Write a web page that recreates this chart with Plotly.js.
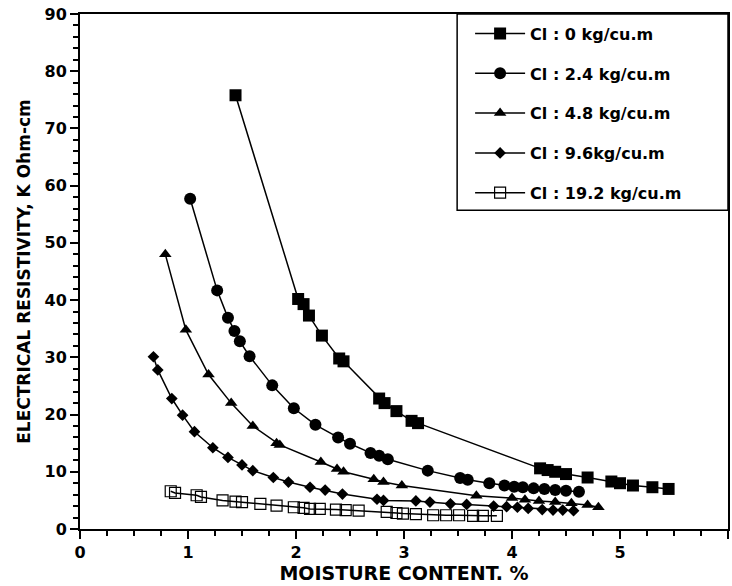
<!DOCTYPE html>
<html>
<head>
<meta charset="utf-8">
<script src="https://cdn.plot.ly/plotly-3.0.1.min.js"></script>
<style>html,body{margin:0;padding:0;background:#fff;}#chart{width:732px;height:586px;}</style>
</head>
<body>
<div id="chart"></div>
<script>
// Cl : 0 kg/cu.m (filled squares)
const x0 = [1.44, 2.02, 2.07, 2.12, 2.24, 2.40, 2.44, 2.77, 2.82, 2.93, 3.07, 3.13, 4.26, 4.33, 4.40, 4.50, 4.70, 4.92, 5.00, 5.12, 5.30, 5.45];
const y0 = [75.8, 40.2, 39.3, 37.3, 33.8, 29.8, 29.3, 22.8, 22.0, 20.6, 18.9, 18.5, 10.6, 10.3, 10.0, 9.6, 9.0, 8.3, 8.0, 7.6, 7.3, 7.0];
// Cl : 2.4 kg/cu.m (filled circles)
const x24 = [1.02, 1.27, 1.37, 1.43, 1.48, 1.57, 1.78, 1.98, 2.18, 2.39, 2.50, 2.69, 2.77, 2.85, 3.22, 3.52, 3.59, 3.79, 3.93, 4.02, 4.10, 4.20, 4.30, 4.40, 4.50, 4.62];
const y24 = [57.7, 41.7, 36.9, 34.6, 32.8, 30.2, 25.1, 21.1, 18.2, 16.0, 14.9, 13.3, 12.8, 12.2, 10.2, 8.9, 8.6, 8.0, 7.6, 7.4, 7.3, 7.1, 7.0, 6.8, 6.7, 6.5];
// Cl : 4.8 kg/cu.m (filled triangles)
const x48 = [0.79, 0.98, 1.19, 1.40, 1.60, 1.82, 1.85, 2.23, 2.38, 2.44, 2.72, 2.81, 2.98, 3.67, 4.00, 4.12, 4.25, 4.40, 4.55, 4.70, 4.80];
const y48 = [48.0, 34.8, 27.0, 22.0, 18.0, 15.0, 14.7, 11.7, 10.5, 10.0, 8.7, 8.2, 7.6, 5.8, 5.4, 5.1, 4.9, 4.7, 4.5, 4.2, 3.8];
// Cl : 9.6 kg/cu.m (filled diamonds)
const x96 = [0.68, 0.72, 0.85, 0.95, 1.06, 1.23, 1.37, 1.50, 1.60, 1.79, 1.93, 2.13, 2.27, 2.43, 2.75, 2.81, 3.11, 3.24, 3.43, 3.58, 3.83, 3.95, 4.05, 4.15, 4.28, 4.38, 4.47, 4.57];
const y96 = [30.1, 27.8, 22.8, 19.9, 17.0, 14.2, 12.5, 11.2, 10.2, 9.0, 8.2, 7.3, 6.8, 6.1, 5.2, 5.0, 4.9, 4.7, 4.4, 4.3, 4.0, 3.9, 3.8, 3.6, 3.4, 3.3, 3.3, 3.2];
// Cl : 19.2 kg/cu.m (open squares)
const x192 = [0.84, 0.88, 1.08, 1.12, 1.32, 1.44, 1.50, 1.67, 1.82, 1.98, 2.07, 2.13, 2.22, 2.37, 2.46, 2.58, 2.84, 2.93, 2.99, 3.11, 3.27, 3.39, 3.51, 3.64, 3.73, 3.86];
const y192 = [6.6, 6.3, 5.9, 5.6, 5.0, 4.8, 4.7, 4.4, 4.1, 3.8, 3.7, 3.5, 3.5, 3.4, 3.3, 3.2, 3.0, 2.8, 2.7, 2.6, 2.4, 2.4, 2.4, 2.3, 2.3, 2.3];

const seriesNames = ["Cl : 0 kg/cu.m", "Cl : 2.4 kg/cu.m", "Cl : 4.8 kg/cu.m", "Cl : 9.6kg/cu.m", "Cl : 19.2 kg/cu.m"];
const xTitle = "MOISTURE CONTENT. %";
const yTitle = "ELECTRICAL RESISTIVITY, K Ohm-cm";

const FONT = "DejaVu Sans, Arial, sans-serif";
const xs = [x0, x24, x48, x96, x192];
const ys = [y0, y24, y48, y96, y192];
const symbols = ["square", "circle", "triangle-up", "diamond", "square-open"];
const sizes = [12, 12, 11, 9, 11];

const traces = xs.map((xv, i) => ({
  x: xv, y: ys[i], name: seriesNames[i], type: "scatter", mode: "lines+markers",
  legendgroup: "g" + i,
  line: {color: "#000", width: 1.5},
  marker: {symbol: symbols[i], size: sizes[i], color: "#000",
           line: {color: "#000", width: i === 4 ? 1.2 : 0}},
  cliponaxis: false
}));

const layout = {
  width: 732, height: 586,
  margin: {l: 80, r: 4, t: 14, b: 57},
  paper_bgcolor: "#fff", plot_bgcolor: "#fff",
  showlegend: true,
  font: {family: FONT, color: "#000"},
  xaxis: {
    range: [0, 6], dtick: 1, tick0: 0,
    showgrid: false, zeroline: false,
    showline: true, linecolor: "#000", linewidth: 2, mirror: true,
    ticks: "outside", ticklen: 8, tickwidth: 2, tickcolor: "#000",
    minor: {dtick: 0.25, ticks: "outside", ticklen: 5, tickwidth: 1.5, tickcolor: "#000"},
    tickfont: {family: FONT, size: 16, weight: "bold", color: "#000"},
    title: {text: xTitle, font: {family: FONT, size: 19, weight: "bold", color: "#000"}, standoff: 4}
  },
  yaxis: {
    range: [0, 90], dtick: 10, tick0: 0,
    showgrid: false, zeroline: false,
    showline: true, linecolor: "#000", linewidth: 2, mirror: true,
    ticks: "outside", ticklen: 8, tickwidth: 2, tickcolor: "#000",
    minor: {dtick: 2, ticks: "outside", ticklen: 5, tickwidth: 1.5, tickcolor: "#000"},
    tickfont: {family: FONT, size: 16, weight: "bold", color: "#000"},
    title: {text: yTitle, font: {family: FONT, size: 17, weight: "bold", color: "#000"}, standoff: 10}
  },
  legend: {
    x: 0.602, xanchor: "left", y: 0.995, yanchor: "top",
    bgcolor: "rgba(0,0,0,0)", borderwidth: 0,
    traceorder: "grouped", tracegroupgap: 16, itemwidth: 50,
    font: {family: FONT, size: 16, weight: "bold", color: "#000"}
  },
  shapes: [{
    type: "rect", xref: "paper", yref: "paper",
    x0: 0.582, x1: 1, y0: 0.619, y1: 1,
    line: {color: "#000", width: 1.5}, fillcolor: "#fff", layer: "below"
  }]
};

Plotly.newPlot("chart", traces, layout, {displayModeBar: false});
</script>
</body>
</html>
